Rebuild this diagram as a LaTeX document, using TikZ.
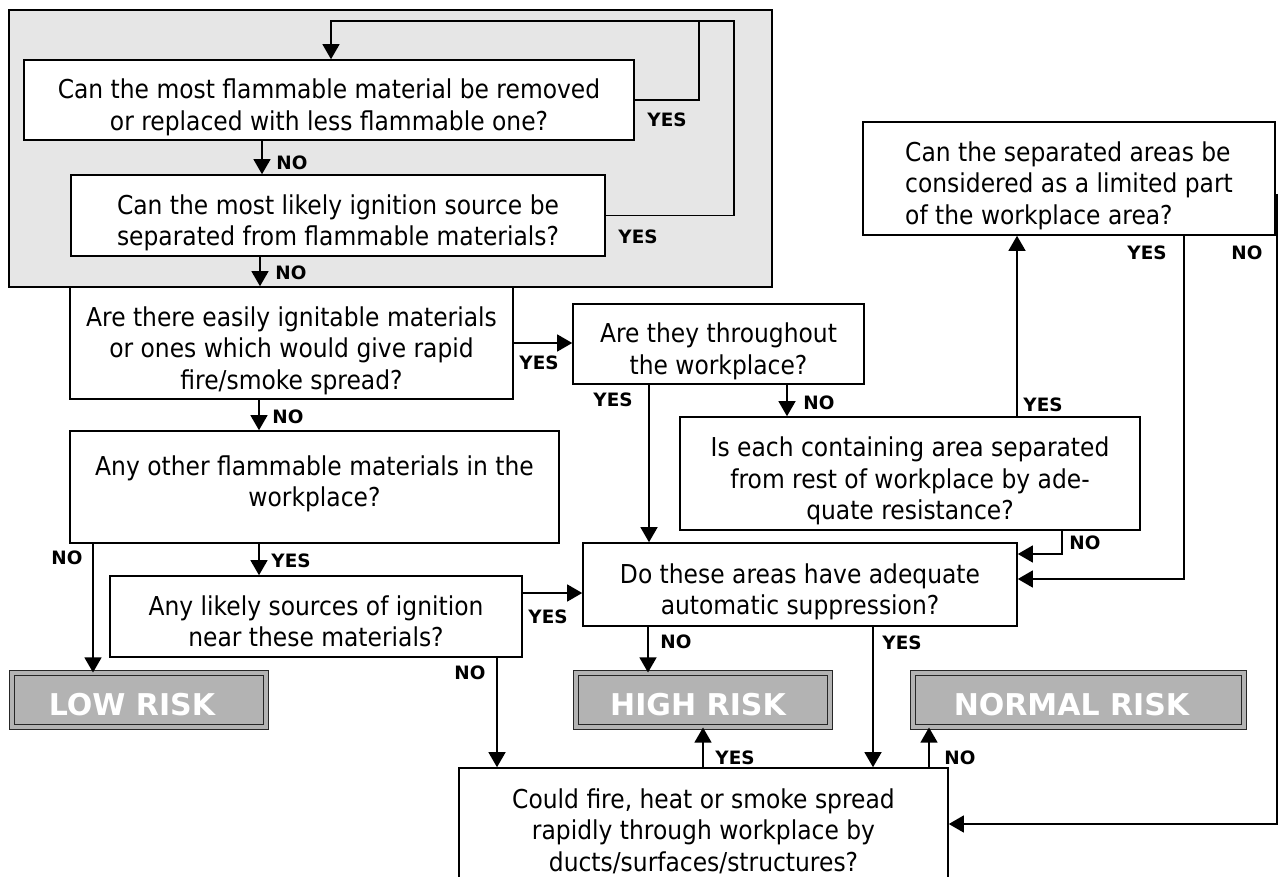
\documentclass[tikz,border=0pt]{standalone}
\usepackage{fontspec}
\setmainfont{DejaVu Sans}[FakeStretch=0.9]
\newfontfamily\labelfont{DejaVu Sans}
\usetikzlibrary{arrows.meta}
\definecolor{panelgray}{HTML}{E6E6E6}
\definecolor{riskgray}{HTML}{B3B3B3}
\newcommand{\qfont}{\fontsize{13pt}{15.75pt}\selectfont}
\newcommand{\lfont}{\labelfont\bfseries\fontsize{9.2pt}{11pt}\selectfont}
\newcommand{\rfont}{\labelfont\bfseries\fontsize{15pt}{18pt}\selectfont}
\newcommand{\toppad}{\rule{0pt}{14.5pt}}
\tikzset{
  spot/.style n args={4}{at={({(#1+#3)/2},{(#2+#4)/2})},
    minimum width={(#3-#1)*0.5pt}, minimum height={(#4-#2)*0.5pt}},
  qbox/.style={draw, line width=0.8pt, fill=white, inner sep=0pt, align=center, font=\qfont,
    text depth=0pt},
  riskbox/.style={draw=black!85, line width=0.55pt, double=riskgray, double distance=1.8pt,
    fill=riskgray, inner sep=0pt, font=\rfont, text=white, text height=15pt, text depth=0pt},
  panel/.style={draw, line width=0.85pt, fill=panelgray, inner sep=0pt},
  lbl/.style={font=\lfont, inner sep=0pt},
  arr/.style={line width=0.65pt, -{Triangle[width=8.5pt,length=7.5pt]}},
  link/.style={line width=0.65pt},
}

\begin{document}
\begin{tikzpicture}[x=0.5pt,y=-0.5pt]
  \useasboundingbox (0,0) rectangle (1279,877);
  \clip (0,0) rectangle (1279,877);

  \node[panel, spot={9}{10}{772}{287}] (panel) {};

  \node[qbox, spot={24}{60}{634}{140}] (remove)
    {\toppad Can the most flammable material be removed\\or replaced with less flammable one?};
  \node[qbox, spot={71}{175}{605}{256}] (separate)
    {\toppad Can the most likely ignition source be\\separated from flammable materials?};
  \node[qbox, spot={70}{287}{513}{399}] (easily)
    {\toppad Are there easily ignitable materials\\or ones which would give rapid\\fire/smoke spread?};
  \node[qbox, spot={70}{431}{559}{543}, text depth=] (other)
    {Any other flammable materials in the\\workplace?\\[-10pt]};
  \node[qbox, spot={110}{576}{522}{657}] (sources)
    {\toppad Any likely sources of ignition\\near these materials?};
  \node[qbox, spot={573}{304}{864}{384}] (throughout)
    {\toppad Are they throughout\\the workplace?};
  \node[qbox, spot={680}{417}{1140}{530}] (contained)
    {\toppad Is each containing area separated\\from rest of workplace by ade-\\quate resistance?};
  \node[qbox, spot={863}{122}{1275}{235}, align=left] (limited)
    {\toppad Can the separated areas be\\considered as a limited part\\of the workplace area?};
  \node[qbox, spot={583}{543}{1017}{626}] (suppress)
    {\toppad Do these areas have adequate\\automatic suppression?};
  \node[qbox, spot={459}{768}{948}{882}] (spread)
    {\toppad Could fire, heat or smoke spread\\rapidly through workplace by\\ducts/surfaces/structures?};

  \node[riskbox, spot={12}{673}{266}{727}] (low) {LOW RISK\kern7pt};
  \node[riskbox, spot={576}{673}{830}{727}] (high) {HIGH RISK\kern5pt};
  \node[riskbox, spot={913}{673}{1244}{727}] (normal) {NORMAL RISK\kern7pt};

  \draw[link] (remove.east) -| (699,21);
  \draw[arr] (separate.east) -| (734,21) -- (331,21) -- (remove.north -| 331,0);
  \draw[arr] (remove.south -| 262,0) -- (separate.north -| 262,0);
  \draw[arr] (separate.south -| 260,0) -- (easily.north -| 260,0);
  \draw[arr] (easily.east) -- (throughout.west |- easily.east);
  \draw[arr] (easily.south -| 259,0) -- (other.north -| 259,0);
  \draw[arr] (other.south -| 259,0) -- (sources.north -| 259,0);
  \draw[arr] (other.south -| 93,0) -- (low.north -| 93,0);
  \draw[arr] (sources.east |- 0,593) -- (suppress.west |- 0,593);
  \draw[arr] (sources.south -| 497,0) -- (spread.north -| 497,0);
  \draw[arr] (throughout.south -| 649,0) -- (suppress.north -| 649,0);
  \draw[arr] (throughout.south -| 787,0) -- (contained.north -| 787,0);
  \draw[arr] (contained.north -| 1017,0) -- (limited.south -| 1017,0);
  \draw[arr] (contained.south -| 1062,0) |- (suppress.east |- 0,554);
  \draw[arr] (limited.south -| 1184,0) |- (suppress.east |- 0,579);
  \draw[arr] (limited.east |- 0,195) -- (1277,195) |- (spread.east |- 0,824);
  \draw[arr] (suppress.south -| 648,0) -- (high.north -| 648,0);
  \draw[arr] (suppress.south -| 873,0) -- (spread.north -| 873,0);
  \draw[arr] (spread.north -| 703,0) -- (high.south -| 703,0);
  \draw[arr] (spread.north -| 929,0) -- (normal.south -| 929,0);

  \node[lbl] (yRemove) at (667,120) {YES};
  \node[lbl] (ySeparate) at (638,237) {YES};
  \node[lbl] (nRemove) at (292,163) {NO};
  \node[lbl] (nSeparate) at (291,273) {NO};
  \node[lbl] (yEasily) at (539,363) {YES};
  \node[lbl] (nEasily) at (288,417) {NO};
  \node[lbl] (nOther) at (67,558) {NO};
  \node[lbl] (yOther) at (291,561) {YES};
  \node[lbl] (ySources) at (548,617) {YES};
  \node[lbl] (nSources) at (470,673) {NO};
  \node[lbl] (yThroughout) at (613,400) {YES};
  \node[lbl] (nThroughout) at (819,403) {NO};
  \node[lbl] (yContained) at (1043,405) {YES};
  \node[lbl] (nContained) at (1085,543) {NO};
  \node[lbl] (yLimited) at (1147,253) {YES};
  \node[lbl] (nLimited) at (1247,253) {NO};
  \node[lbl] (nSuppress) at (676,642) {NO};
  \node[lbl] (ySuppress) at (902,643) {YES};
  \node[lbl] (ySpread) at (735,758) {YES};
  \node[lbl] (nSpread) at (960,758) {NO};
\end{tikzpicture}
\end{document}
